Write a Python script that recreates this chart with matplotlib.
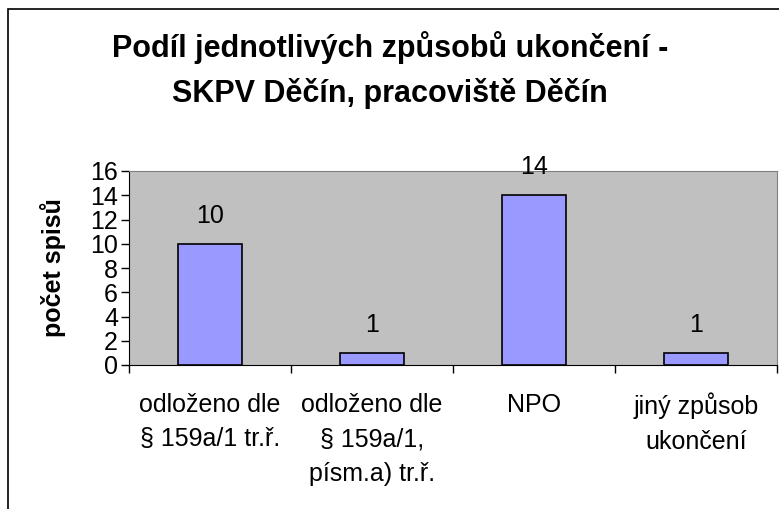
import matplotlib
matplotlib.use('Agg')
import matplotlib.pyplot as plt
from matplotlib.patches import Rectangle
import numpy as np

plt.rcParams['font.family'] = ['Liberation Sans', 'DejaVu Sans']

# data
categories = ['odloženo dle\n§ 159a/1 tr.ř.',
              'odloženo dle\n§ 159a/1,\npísm.a) tr.ř.',
              'NPO',
              'jiný způsob\nukončení']
counts = [10, 1, 14, 1]
title = 'Podíl jednotlivých způsobů ukončení -\nSKPV Děčín, pracoviště Děčín'
ylabel = 'počet spisů'

W, H = 779, 509
fig = plt.figure(figsize=(W/100, H/100), dpi=100)
fig.patch.set_facecolor('white')

# outer chart border (runs off right and bottom edge)
fig.patches.append(Rectangle((8/W, -0.05), 1.1, 1.05 - 9/H,
                             transform=fig.transFigure, fill=False,
                             edgecolor='black', linewidth=1.2))

ax = fig.add_axes([129/W, 1 - 365/H, (777-129)/W, (365-171)/H])
ax.set_facecolor('#C0C0C0')

x = np.arange(len(counts))
ax.bar(x, counts, width=0.39, color='#9999FF', edgecolor='black', linewidth=1.2, zorder=3)
for xi, v in zip(x, counts):
    ax.text(xi, v + 2.3, str(v), ha='center', va='center', fontsize=18)

ax.set_xlim(-0.5, len(counts) - 0.5)
ax.set_ylim(0, 16)
ax.set_yticks(range(0, 17, 2))
ax.tick_params(axis='y', labelsize=18, length=6, width=1, pad=2)

ax.set_xticks(x)
ax.set_xticklabels(categories, fontsize=18, linespacing=1.55, va='top')
ax.tick_params(axis='x', length=0, pad=20)
ax.set_xticks(np.arange(len(counts) + 1) - 0.5, minor=True)
ax.tick_params(axis='x', which='minor', length=6, width=1)

ax.spines['left'].set_color('black')
ax.spines['bottom'].set_color('black')
ax.spines['top'].set_color('#808080')
ax.spines['right'].set_color('#808080')

fig.text(53/W, 1 - 268/H, ylabel, rotation=90, fontsize=18, fontweight='bold',
         ha='center', va='center')

fig.text(390/W, 1 - 70/H, title, ha='center', va='center', fontsize=22,
         fontweight='bold', linespacing=1.55)

fig.savefig('out.png', dpi=100)
